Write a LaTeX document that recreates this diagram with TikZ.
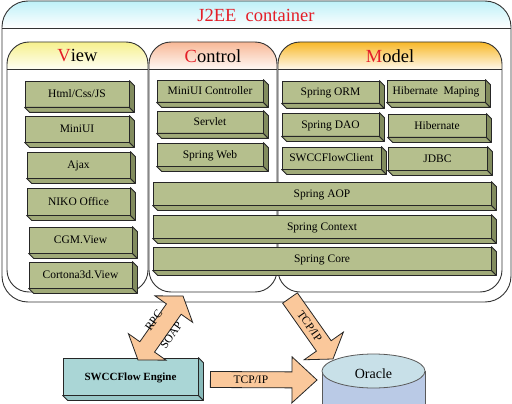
\documentclass[tikz,border=0pt]{standalone}
\usepackage{fontspec}
\setmainfont{Liberation Serif}
\usetikzlibrary{calc}
\definecolor{jred}{RGB}{228,30,40}
\definecolor{jcyan}{RGB}{190,240,248}
\definecolor{vyel}{RGB}{246,240,140}
\definecolor{cpeach}{RGB}{248,184,150}
\definecolor{morange}{RGB}{248,184,40}
\definecolor{gfrontc}{RGB}{181,191,141}
\definecolor{gsidec}{RGB}{130,140,94}
\definecolor{gbotc}{RGB}{160,170,120}
\definecolor{efrontc}{RGB}{170,214,214}
\definecolor{esidec}{RGB}{136,186,186}
\definecolor{ebotc}{RGB}{152,200,200}
\definecolor{arrowc}{RGB}{250,200,155}
\definecolor{orctop}{RGB}{200,224,232}
\definecolor{orcbody}{RGB}{186,202,230}
\tikzset{
 edge/.style={draw=black!85, line width=0.8pt, line join=round},
 gfront/.style={edge, fill=gfrontc, inner sep=0pt, text height=7.6pt, text depth=0pt, font=\fontsize{11.5}{13}\selectfont},
 gside/.style={edge, fill=gsidec},
 gbot/.style={edge, fill=gbotc},
 efront/.style={edge, fill=efrontc, inner sep=0pt, text height=7.4pt, text depth=0pt, font=\bfseries\fontsize{11}{13}\selectfont},
 eside/.style={edge, fill=esidec},
 ebot/.style={edge, fill=ebotc},
 frame/.style={draw=black!80, line width=0.9pt},
 blockarrow/.style={draw=black!85, line width=0.8pt, fill=arrowc, line join=miter},
 lbl/.style={font=\fontsize{11.5}{13}\selectfont, inner sep=1pt, text height=7.6pt, text depth=0pt},
 headtxt/.style={font=\fontsize{18.5}{20}\selectfont, text=black, inner sep=0pt},
 cyl/.style={draw=black!65, line width=0.8pt},
}
% #1 style prefix, #2 name, #3 x1, #4 y1, #5 x2, #6 y2, #7 text
\newcommand\cubebox[7]{%
 \node[#1front, minimum width={(#5-#3)*1pt}, minimum height={(#6-#4)*1pt}] (#2) at ({(#3+#5)/2},{(#4+#6)/2}) {#7};
 \draw[#1bot] (#2.south west) -- (#2.south east) -- ++(5,5) -- ($(#2.south west)+(5,5)$) -- cycle;
 \draw[#1side] (#2.north east) -- ++(5,5) -- ($(#2.south east)+(5,5)$) -- (#2.south east) -- cycle;
}
% #1 name, #2 x1, #3 x2, #4 colour, #5 label
\newcommand\mypanel[5]{%
 \begin{scope}
 \clip[rounded corners=22pt] (#2,42) rectangle (#3,292);
 \fill[white] (#2,42) rectangle (#3,292);
 \shade[top color=#4, bottom color=#4!10!white] (#2,42) rectangle (#3,69);
 \end{scope}
 \draw[frame, rounded corners=22pt] (#2,42) rectangle (#3,292);
 \draw[frame] (#2,69) -- (#3,69);
 \node[headtxt] (#1) at ({(#2+#3)/2},56) {#5};
}
% #1 from, #2 to, #3 half shaft, #4 half head, #5 head length, #6 id
\newcommand\blockarr[6]{%
 \coordinate (#6c) at ($(#2)!#5!(#1)$);
 \draw[blockarrow] ($(#1)!#3!90:(#2)$) -- ($(#6c)!#3!-90:(#1)$) -- ($(#6c)!#4!-90:(#1)$) -- (#2) -- ($(#6c)!#4!90:(#1)$) -- ($(#6c)!#3!90:(#1)$) -- ($(#1)!#3!-90:(#2)$) -- cycle;
}
\newcommand\dblarr[6]{%
 \coordinate (#6a) at ($(#1)!#5!(#2)$);
 \coordinate (#6b) at ($(#2)!#5!(#1)$);
 \draw[blockarrow] (#1) -- ($(#6a)!#4!90:(#2)$) -- ($(#6a)!#3!90:(#2)$) -- ($(#6b)!#3!-90:(#1)$) -- ($(#6b)!#4!-90:(#1)$) -- (#2) -- ($(#6b)!#4!90:(#1)$) -- ($(#6b)!#3!90:(#1)$) -- ($(#6a)!#3!-90:(#2)$) -- ($(#6a)!#4!-90:(#2)$) -- cycle;
}
\begin{document}
\begin{tikzpicture}[x=1pt,y=-1pt]
\useasboundingbox (0,0) rectangle (512,404);
\clip (0,0) rectangle (512,404);
% outer J2EE container
\begin{scope}
 \clip[rounded corners=26pt] (2,1) rectangle (511,302);
 \fill[white] (2,1) rectangle (511,302);
 \shade[top color=jcyan, bottom color=white] (2,1) rectangle (511,28);
\end{scope}
\draw[frame, rounded corners=26pt] (2,1) rectangle (511,302);
\draw[frame] (2,28) -- (511,28);
\node[headtxt, text=jred] (title) at (256,15) {J2EE\ \ container};
% panels
\mypanel{view}{7}{148}{vyel}{\textcolor{jred}{V}iew}
\mypanel{control}{149}{277}{cpeach}{\textcolor{jred}{C}ontrol}
\mypanel{model}{278}{502}{morange}{\textcolor{jred}{M}odel}
% view boxes
\cubebox{g}{html}{25}{81}{129}{107}{Html/Css/JS}
\cubebox{g}{miniui}{25}{116}{129}{142}{MiniUI}
\cubebox{g}{ajax}{27}{152}{130}{178}{Ajax}
\cubebox{g}{niko}{27}{188}{130}{215}{NIKO Office}
\cubebox{g}{cgm}{29}{227}{132}{253}{CGM.View}
\cubebox{g}{cortona}{29}{262}{132}{288}{Cortona3d.View}
% control boxes
\cubebox{g}{miniuic}{157}{80}{263}{102}{MiniUI Controller}
\cubebox{g}{servlet}{157}{111}{263}{133}{Servlet}
\cubebox{g}{springweb}{157}{143}{263}{166}{Spring Web}
% model boxes
\cubebox{g}{orm}{282}{81}{379}{103}{Spring ORM}
\cubebox{g}{hibmap}{387}{80}{485}{102}{Hibernate\ \ Maping}
\cubebox{g}{dao}{282}{113}{379}{136}{Spring DAO}
\cubebox{g}{hib}{388}{114}{486}{137}{Hibernate}
\cubebox{g}{swccc}{282}{147}{381}{169}{SWCCFlowClient}
\cubebox{g}{jdbc}{388}{147}{487}{170}{JDBC}
% spring layers
\cubebox{g}{aop}{153}{182}{491}{205}{Spring AOP}
\cubebox{g}{context}{153}{215}{491}{238}{Spring Context}
\cubebox{g}{core}{153}{247}{491}{270}{Spring Core}
% engine
\cubebox{e}{engine}{63}{358}{198}{395}{SWCCFlow Engine}
% oracle cylinder
\draw[cyl, fill=orcbody] (322,371) -- (322,420) -- (425,420) -- (425,371) -- cycle;
\draw[cyl, fill=orctop] (373.5,371) ellipse [x radius=51.5pt, y radius=17pt];
\node[font=\fontsize{14}{16}\selectfont, inner sep=0pt] (oracle) at (373.5,374) {Oracle};
% arrows
\coordinate (rpcA) at (138,360);
\coordinate (rpcB) at (183,296);
\dblarr{rpcA}{rpcB}{9pt}{23pt}{16pt}{rpc}
\path (rpcA) -- (rpcB) node[lbl, sloped, pos=0.53, above=5pt] (rpctxt) {RPC}
                       node[lbl, sloped, pos=0.50, below=8pt] (soaptxt) {SOAP};
\coordinate (tcpA) at (290,298);
\coordinate (tcpB) at (333,359);
\blockarr{tcpA}{tcpB}{9pt}{24pt}{16pt}{tcp}
\path (tcpA) -- (tcpB) node[lbl, sloped, pos=0.46] (tcptxt) {TCP/IP};
\coordinate (hA) at ($(engine.east)+(12,3)$);
\coordinate (hB) at (317,380);
\blockarr{hA}{hB}{8pt}{23pt}{25pt}{hor}
\path (hA) -- (hB) node[lbl, pos=0.38] (hortxt) {TCP/IP};
\end{tikzpicture}
\end{document}
